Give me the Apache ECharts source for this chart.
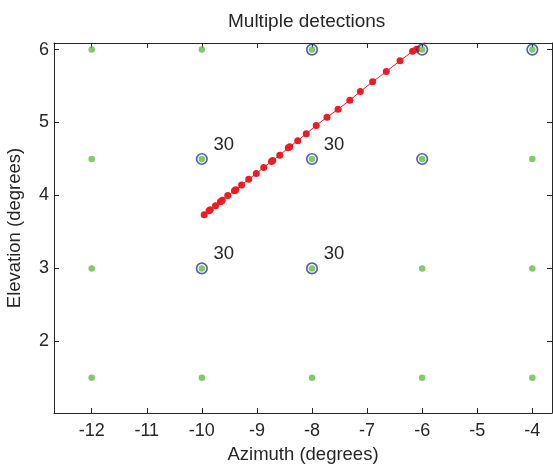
<!DOCTYPE html>
<html>
<head>
<meta charset="utf-8">
<script src="https://cdn.jsdelivr.net/npm/echarts@6/dist/echarts.min.js"></script>
<style>
  html, body { margin: 0; padding: 0; background: #fff; }
  #chart { width: 553px; height: 467px; }
</style>
</head>
<body>
<div id="chart"></div>
<script>
// Search grid of beam positions (azimuth x elevation)
const gridAz = [-12, -10, -8, -6, -4];
const gridEl = [1.5, 3, 4.5, 6];

// Beams that reported a detection
const detAz = [-10, -10, -8, -8, -8, -6, -6, -4];
const detEl = [4.5, 3, 6, 4.5, 3, 6, 4.5, 6];

// Detection annotations
const noteAz = [-10, -10, -8, -8];
const noteEl = [4.5, 3, 4.5, 3];
const noteText = ['30', '30', '30', '30'];

// Target track
const trackAz = [-9.957, -9.870, -9.848, -9.752, -9.663, -9.630, -9.530, -9.408, -9.385,
  -9.279, -9.149, -9.012, -8.876, -8.736, -8.713, -8.586, -8.431, -8.404, -8.259,
  -8.104, -7.923, -7.728, -7.527, -7.314, -7.123, -6.900, -6.651, -6.402, -6.174,
  -6.101, -5.900];
const trackEl = [3.737, 3.792, 3.805, 3.860, 3.915, 3.936, 4.000, 4.066, 4.079,
  4.144, 4.223, 4.301, 4.385, 4.466, 4.479, 4.552, 4.655, 4.668, 4.751,
  4.847, 4.960, 5.073, 5.182, 5.305, 5.425, 5.559, 5.699, 5.847, 5.977,
  6.004, 6.140];

// Tick labels
const xTicks = [-12, -11, -10, -9, -8, -7, -6, -5, -4];
const yTicks = [2, 3, 4, 5, 6];

const FONT = '"Liberation Sans", Arial, Helvetica, sans-serif';
const INK = '#262626';

const gridPts = [];
gridAz.forEach(a => gridEl.forEach(e => gridPts.push([a, e])));
const detPts = detAz.map((a, i) => [a, detEl[i]]);
const notePts = noteAz.map((a, i) => ({ value: [noteAz[i], noteEl[i]], name: noteText[i] }));
const trackPts = trackAz.map((a, i) => [a, trackEl[i]]);

const xBase = {
  type: 'value', min: -12.684, max: -3.643,
  splitLine: { show: false },
  axisLine: { show: true, onZero: false, lineStyle: { color: INK, width: 1 } },
  axisTick: { show: true, inside: true, length: 5, lineStyle: { color: INK }, customValues: xTicks }
};
const yBase = {
  type: 'value', min: 1.018, max: 6.09,
  splitLine: { show: false },
  axisLine: { show: true, onZero: false, lineStyle: { color: INK, width: 1 } },
  axisTick: { show: true, inside: true, length: 5, lineStyle: { color: INK }, customValues: yTicks }
};

const chart = echarts.init(document.getElementById('chart'), null, { renderer: 'canvas' });
chart.setOption({
  animation: false,
  backgroundColor: '#fff',
  title: {
    text: 'Multiple detections',
    left: 223, top: 7,
    textStyle: { fontFamily: FONT, fontSize: 19, fontWeight: 'normal', color: INK }
  },
  grid: { left: 54, top: 43, right: 1, bottom: 54, containLabel: false, outerBoundsMode: 'none' },
  xAxis: [
    Object.assign({}, xBase, {
      position: 'bottom',
      name: 'Azimuth (degrees)', nameLocation: 'middle', nameGap: 32,
      nameTextStyle: { fontFamily: FONT, fontSize: 18.5, color: INK },
      axisLabel: { show: true, margin: 9, fontFamily: FONT, fontSize: 18, color: INK, customValues: xTicks }
    }),
    Object.assign({}, xBase, { position: 'top', axisLabel: { show: false } })
  ],
  yAxis: [
    Object.assign({}, yBase, {
      position: 'left',
      name: 'Elevation (degrees)', nameLocation: 'middle', nameGap: 30,
      nameTextStyle: { fontFamily: FONT, fontSize: 18.5, color: INK },
      axisLabel: { show: true, margin: 5, fontFamily: FONT, fontSize: 18, color: INK, customValues: yTicks }
    }),
    Object.assign({}, yBase, { position: 'right', axisLabel: { show: false } })
  ],
  series: [
    {
      type: 'line', data: trackPts, xAxisIndex: 0, yAxisIndex: 0,
      symbol: 'circle', symbolSize: 7, showSymbol: true,
      lineStyle: { color: '#ec1c24', width: 1 },
      itemStyle: { color: '#ec1c24' },
      clip: true, z: 2
    },
    {
      type: 'scatter', data: detPts,
      symbol: 'circle', symbolSize: 10.5,
      itemStyle: { color: 'rgba(0,0,0,0)', borderColor: '#2a3e96', borderWidth: 1.7 },
      z: 3
    },
    {
      type: 'scatter', data: gridPts,
      symbol: 'circle', symbolSize: 6.5,
      itemStyle: { color: '#62bb46' },
      z: 4
    },
    {
      type: 'scatter', data: notePts,
      symbolSize: 1, silent: true,
      itemStyle: { color: 'rgba(0,0,0,0)' },
      label: {
        show: true, position: 'inside', offset: [22, -14.5],
        formatter: p => p.name,
        fontFamily: FONT, fontSize: 18.5, color: INK, opacity: 1,
        textBorderWidth: 0, textShadowBlur: 0,
        align: 'center', verticalAlign: 'middle'
      },
      z: 5
    }
  ]
});
</script>
</body>
</html>
